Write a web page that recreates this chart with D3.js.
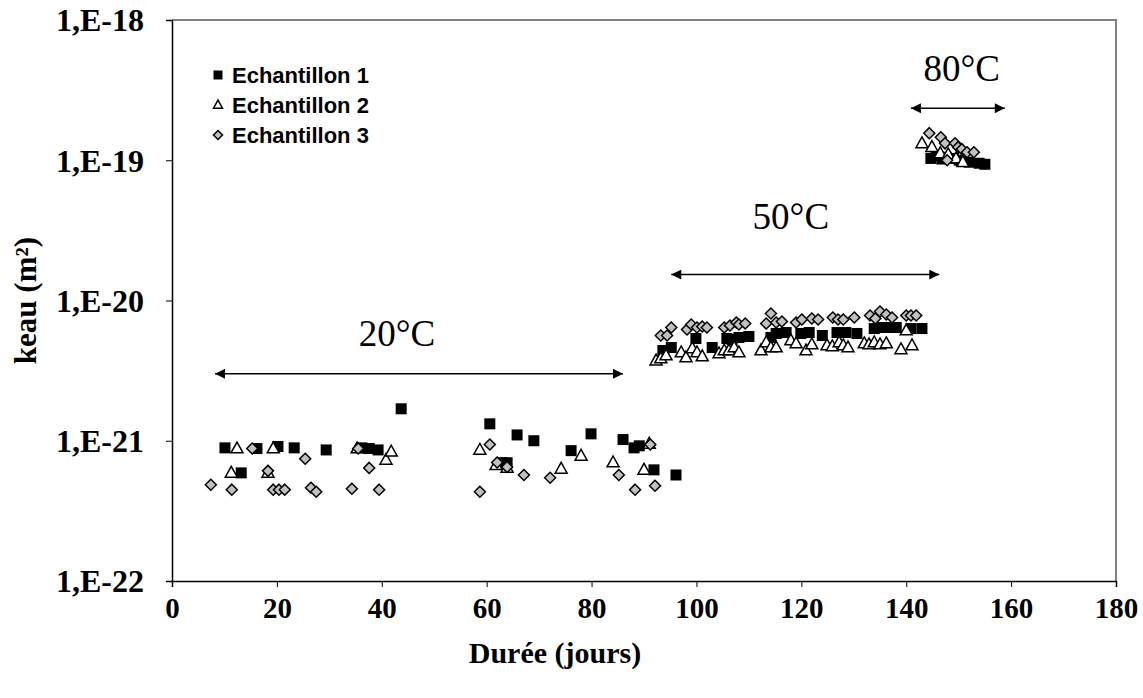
<!DOCTYPE html>
<html>
<head>
<meta charset="utf-8">
<script src="https://cdn.jsdelivr.net/npm/d3@7"></script>
<style>
  html, body { margin: 0; padding: 0; background: #fff; }
  svg { display: block; }
</style>
</head>
<body>
<svg id="chart" width="1143" height="698"></svg>
<script>
// ---- Data (durée en jours, keau en m²) ----
const xTicks = [0, 20, 40, 60, 80, 100, 120, 140, 160, 180];
const yTicks = [1e-22, 1e-21, 1e-20, 1e-19, 1e-18];
const yTickLabels = ["1,E-22", "1,E-21", "1,E-20", "1,E-19", "1,E-18"];
const seriesNames = ["Echantillon 1", "Echantillon 2", "Echantillon 3"];

// Echantillon 1 (carrés noirs)
const ech1Days = [10.1, 13.2, 16.2, 20.2, 23.3, 29.4, 36.2, 37.6, 39.3, 43.7,
  60.6, 62.9, 63.9, 65.8, 69.0, 76.1, 79.9, 86.0, 88.1, 89.1, 91.9, 96.1,
  93.6, 95.2, 99.9, 103.0, 105.8, 106.8, 108.1, 110.0, 114.2, 115.2, 117.1, 119.9,
  121.5, 124.0, 126.8, 128.5, 130.6, 133.9, 135.4, 136.3, 137.3, 138.1, 140.9, 143.0,
  144.7, 145.7, 146.8, 147.6, 149.0, 150.1, 152.0, 153.9, 155.0];
const ech1K = [8.9e-22, 5.9e-22, 8.8e-22, 9.1e-22, 8.9e-22, 8.6e-22, 8.9e-22, 8.8e-22, 8.6e-22, 1.69e-21,
  1.32e-21, 6.97e-22, 6.97e-22, 1.10e-21, 1.0e-21, 8.5e-22, 1.12e-21, 1.02e-21, 8.9e-22, 9.2e-22, 6.2e-22, 5.7e-22,
  4.40e-21, 4.62e-21, 5.36e-21, 4.62e-21, 5.36e-21, 5.27e-21, 5.45e-21, 5.54e-21, 5.45e-21, 5.82e-21, 5.91e-21, 5.82e-21,
  5.91e-21, 5.63e-21, 5.91e-21, 5.91e-21, 5.82e-21, 6.31e-21, 6.42e-21, 6.42e-21, 6.42e-21, 6.42e-21, 6.31e-21, 6.31e-21,
  1.03e-19, 1.08e-19, 1.02e-19, 1.05e-19, 1.03e-19, 1.0e-19, 0.968e-19, 0.952e-19, 0.936e-19];

// Echantillon 2 (triangles blancs)
const ech2Days = [11.3, 12.4, 18.3, 19.3, 35.3, 40.8, 41.8,
  58.7, 61.8, 63.9, 74.2, 78.0, 84.1, 90.0, 91.0,
  92.3, 93.2, 94.2, 97.1, 98.0, 99.2, 100.1, 101.1, 104.3, 105.3, 106.2, 107.2, 108.1,
  112.3, 113.3, 114.2, 115.2, 118.0, 119.0, 120.9, 122.0, 124.9, 125.9, 127.2, 128.0, 128.9,
  132.0, 132.9, 133.9, 135.0, 136.2, 139.0, 140.0, 141.1,
  143.0, 144.9, 146.5, 148.0, 149.5, 150.8];
const ech2K = [5.9e-22, 8.8e-22, 5.9e-22, 8.8e-22, 8.8e-22, 7.3e-22, 8.35e-22,
  8.6e-22, 6.7e-22, 6.4e-22, 6.3e-22, 7.8e-22, 7.0e-22, 6.2e-22, 9.5e-22,
  3.73e-21, 3.86e-21, 4.05e-21, 4.26e-21, 3.92e-21, 4.55e-21, 4.26e-21, 3.99e-21, 4.19e-21, 4.40e-21, 4.40e-21, 4.62e-21, 4.26e-21,
  4.40e-21, 5.02e-21, 4.62e-21, 4.62e-21, 5.19e-21, 4.94e-21, 4.40e-21, 4.86e-21, 4.78e-21, 4.70e-21, 5.02e-21, 4.78e-21, 4.62e-21,
  4.94e-21, 4.86e-21, 5.02e-21, 4.86e-21, 4.94e-21, 4.48e-21, 6.11e-21, 4.78e-21,
  1.32e-19, 1.24e-19, 1.12e-19, 1.10e-19, 1.03e-19, 0.968e-19];

// Echantillon 3 (losanges gris)
const ech3Days = [7.4, 11.4, 15.3, 18.3, 19.3, 20.4, 21.5, 25.4, 26.5, 27.5, 34.3, 35.5, 37.6, 39.5,
  58.7, 60.6, 62.0, 63.9, 67.1, 72.1, 85.2, 88.3, 91.2, 92.1,
  93.2, 94.4, 95.2, 98.2, 99.0, 100.1, 101.1, 102.0, 105.3, 106.4, 107.6, 108.1, 109.3,
  113.3, 114.2, 115.2, 116.3, 119.0, 120.1, 122.0, 123.2, 126.0, 127.0, 128.0, 130.1,
  133.1, 134.1, 135.0, 136.2, 137.3, 140.0, 140.9, 141.9,
  144.4, 146.6, 147.4, 147.8, 149.3, 149.9, 150.6, 151.6, 152.9];
const ech3K = [4.86e-22, 4.48e-22, 8.8e-22, 6.1e-22, 4.48e-22, 4.48e-22, 4.48e-22, 7.44e-22, 4.62e-22, 4.33e-22, 4.55e-22, 8.8e-22, 6.4e-22, 4.48e-22,
  4.33e-22, 9.4e-22, 7.0e-22, 6.5e-22, 5.7e-22, 5.45e-22, 5.7e-22, 4.48e-22, 9.4e-22, 4.78e-22,
  5.63e-21, 5.63e-21, 6.42e-21, 6.21e-21, 6.74e-21, 6.42e-21, 6.53e-21, 6.42e-21, 6.42e-21, 6.63e-21, 6.97e-21, 6.74e-21, 6.85e-21,
  6.85e-21, 8.08e-21, 6.97e-21, 7.08e-21, 6.97e-21, 7.32e-21, 7.44e-21, 7.32e-21, 7.56e-21, 7.32e-21, 7.32e-21, 7.56e-21,
  7.82e-21, 7.44e-21, 8.35e-21, 7.95e-21, 7.56e-21, 7.82e-21, 7.82e-21, 7.82e-21,
  1.56e-19, 1.46e-19, 1.32e-19, 1.0e-19, 1.32e-19, 1.24e-19, 1.20e-19, 1.14e-19, 1.14e-19];

// Plages de température (flèches)
const tempLabels = ["20°C", "50°C", "80°C"];
const tempStart = [8.2, 95.2, 140.9];
const tempEnd = [86.0, 146.3, 158.8];
const tempK = [3.0e-21, 1.53e-20, 2.35e-19];
const tempLabelDay = [42.9, 118.0, 150.6];
const tempLabelK = [4.74e-21, 3.23e-20, 3.67e-19];

// ---- Drawing ----
const svg = d3.select("#chart");
const x = d3.scaleLinear().domain([0, 180]).range([172, 1116]);
const y = d3.scaleLog().domain([1e-22, 1e-18]).range([581, 20]);

const serif = "'Liberation Serif', 'Times New Roman', serif";
const sans = "'Liberation Sans', Arial, sans-serif";

// plot frame (top/right grey)
svg.append("path")
  .attr("d", `M${x(0)},${y(1e-18)}H${x(180)}V${y(1e-22)}`)
  .attr("fill", "none").attr("stroke", "#808080").attr("stroke-width", 2);

// X axis
const xAxis = svg.append("g").attr("transform", `translate(0,${y(1e-22)})`)
  .call(d3.axisBottom(x).tickValues(xTicks).tickSize(6).tickPadding(10).tickFormat(d3.format("d")));
xAxis.select(".domain").attr("stroke", "#000").attr("stroke-width", 1.5);
xAxis.selectAll(".tick line").attr("stroke", "#000");
xAxis.selectAll("text").attr("font-family", serif).attr("font-weight", "bold")
  .attr("font-size", 29).attr("fill", "#000");

// Y axis
const yAxis = svg.append("g").attr("transform", `translate(${x(0)},0)`)
  .call(d3.axisLeft(y).tickValues(yTicks).tickSize(6).tickPadding(22)
    .tickFormat((d, i) => yTickLabels[i]));
yAxis.select(".domain").attr("stroke", "#000").attr("stroke-width", 1.5);
yAxis.selectAll(".tick line").attr("stroke", "#000");
yAxis.selectAll("text").attr("font-family", serif).attr("font-weight", "bold")
  .attr("font-size", 32).attr("fill", "#000").attr("dy", "0.34em");

// Axis titles
svg.append("text").attr("x", 555).attr("y", 663)
  .attr("text-anchor", "middle").attr("font-family", serif).attr("font-weight", "bold")
  .attr("font-size", 30).text("Durée (jours)");
svg.append("text").attr("transform", `translate(36,${(y(1e-18) + y(1e-22)) / 2}) rotate(-90)`)
  .attr("text-anchor", "middle").attr("font-family", serif).attr("font-weight", "bold")
  .attr("font-size", 31).text("keau (m²)");

// Marker shapes
const sq = 11, tri = 12, dia = 11;
function drawSquare(g, cx, cy, s) {
  g.append("rect").attr("x", cx - s / 2).attr("y", cy - s / 2).attr("width", s).attr("height", s)
    .attr("fill", "#000");
}
function drawTriangle(g, cx, cy, s) {
  const h = s * 0.9;
  g.append("path").attr("d", `M${cx},${cy - h * 0.6}L${cx + s / 2},${cy + h * 0.4}L${cx - s / 2},${cy + h * 0.4}Z`)
    .attr("fill", "#fff").attr("stroke", "#000").attr("stroke-width", 1.5);
}
function drawDiamond(g, cx, cy, s) {
  const r = s / 2;
  g.append("path").attr("d", `M${cx},${cy - r}L${cx + r},${cy}L${cx},${cy + r}L${cx - r},${cy}Z`)
    .attr("fill", "#c0c0c0").attr("stroke", "#000").attr("stroke-width", 1.5);
}

const plot = svg.append("g");
ech1Days.forEach((d, i) => drawSquare(plot, x(d), y(ech1K[i]), sq));
ech2Days.forEach((d, i) => drawTriangle(plot, x(d), y(ech2K[i]), tri));
ech3Days.forEach((d, i) => drawDiamond(plot, x(d), y(ech3K[i]), dia));

// Temperature arrows
const defs = svg.append("defs");
["s", "e"].forEach(k => {
  defs.append("marker").attr("id", "arr-" + k).attr("viewBox", "0 0 10 10")
    .attr("refX", k === "e" ? 10 : 0).attr("refY", 5)
    .attr("markerWidth", 15).attr("markerHeight", 10).attr("markerUnits", "userSpaceOnUse")
    .attr("orient", "auto")
    .append("path").attr("d", k === "e" ? "M0,0L10,5L0,10Z" : "M10,0L0,5L10,10Z").attr("fill", "#000");
});
tempLabels.forEach((t, i) => {
  svg.append("line").attr("x1", x(tempStart[i])).attr("x2", x(tempEnd[i]))
    .attr("y1", y(tempK[i])).attr("y2", y(tempK[i]))
    .attr("stroke", "#000").attr("stroke-width", 1.5)
    .attr("marker-start", "url(#arr-s)").attr("marker-end", "url(#arr-e)");
  svg.append("text").attr("x", x(tempLabelDay[i])).attr("y", y(tempLabelK[i]))
    .attr("text-anchor", "middle").attr("font-family", serif).attr("font-size", 37)
    .attr("fill", "#000").text(t);
});

// Legend
const lg = svg.append("g");
const legY = [75, 105, 135];
seriesNames.forEach((n, i) => {
  const cy = legY[i];
  if (i === 0) drawSquare(lg, 218, cy, 9);
  if (i === 1) drawTriangle(lg, 218, cy, 9);
  if (i === 2) drawDiamond(lg, 218, cy, 9);
  lg.append("text").attr("x", 232).attr("y", cy).attr("dy", "0.36em")
    .attr("font-family", sans).attr("font-weight", "bold").attr("font-size", 22)
    .attr("fill", "#000").text(n);
});
</script>
</body>
</html>
